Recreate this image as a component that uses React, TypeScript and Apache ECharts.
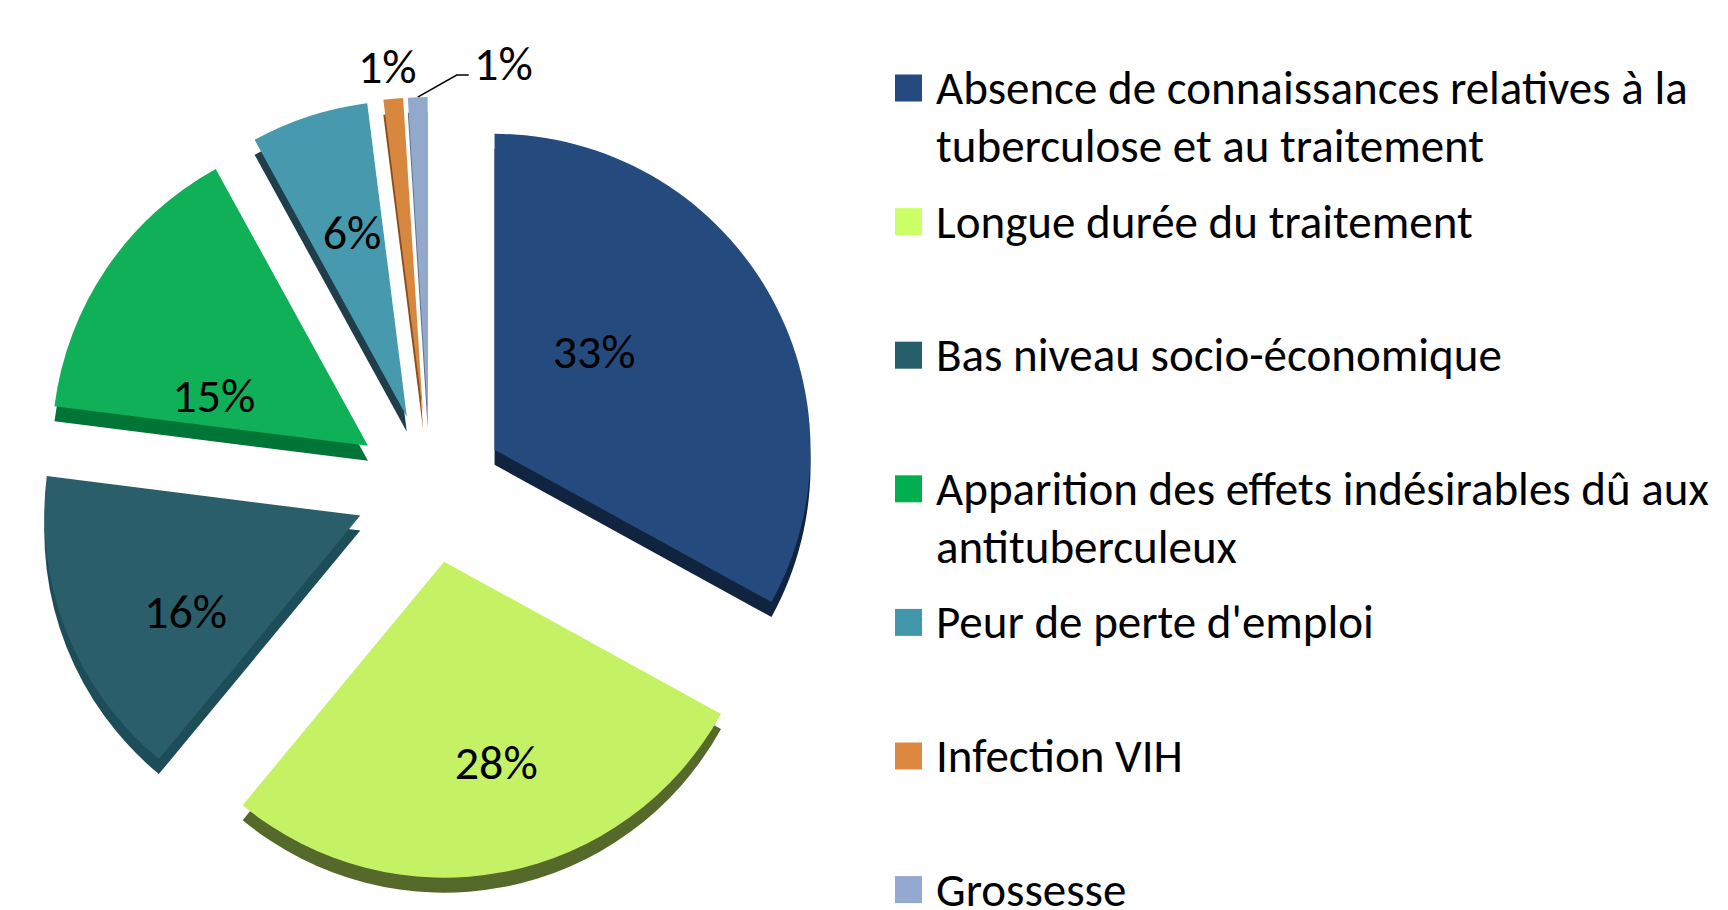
import React, { useEffect, useRef } from 'react';
import * as echarts from 'echarts';

const categories = [
  'Absence de connaissances relatives à la tuberculose et au traitement',
  'Longue durée du traitement',
  'Bas niveau socio-économique',
  'Apparition des effets indésirables dû aux antituberculeux',
  "Peur de perte d'emploi",
  'Infection VIH',
  'Grossesse',
];
const values = [33, 28, 16, 15, 6, 1, 1];
const legendLabels = [
  'Absence de connaissances relatives à la\ntuberculose et au traitement',
  'Longue durée du traitement',
  'Bas niveau socio-économique',
  'Apparition des effets indésirables dû aux\nantituberculeux',
  "Peur de perte d'emploi",
  'Infection VIH',
  'Grossesse',
];

const topColors = ['#254a7d', '#c4f264', '#2a5e6b', '#0fb058', '#4799ae', '#d8873f', '#93a9cc'];
const sideColors = ['#10233f', '#55692b', '#1c4d59', '#007536', '#1f3e49', '#8a4e1e', '#5d6f8f'];
const legendColors = ['#254a7f', '#ccff66', '#265e6a', '#00b050', '#4397ad', '#dd8840', '#94a9cf'];

const FONT = 'Carlito, Lato, "Open Sans", sans-serif';
const FS = 47;
const LH = 58;
const labelNudge = [[-39, -16], [22, 43], [-25, 37], [-21, 40], [-5, -31], [21, -12], [82, -14]];

export default function App() {
  const ref = useRef<HTMLDivElement>(null);
  useEffect(() => {
    document.body.style.margin = '0';
    const chart = echarts.init(ref.current!, null, { renderer: 'svg' });
    const center = [430, 488];
    const radius = 316;
    const offset = 75;
    const depth = 15;

    const legends = categories.map((name, i) => {
      const lines = legendLabels[i].split('\n').length;
      const cy = 88 + 133.6 * i;
      const text = lines === 2 ? '\u00a0\n' + legendLabels[i] : legendLabels[i];
      const boxH = lines === 2 ? 3 * LH : LH;
      return {
        show: true,
        data: [{ name, itemStyle: { color: legendColors[i] } }],
        orient: 'vertical',
        left: 895,
        top: cy - boxH / 2,
        padding: 0,
        itemWidth: 27,
        itemHeight: 27,
        icon: 'rect',
        selectedMode: false,
        formatter: () => text,
        textStyle: {
          fontSize: FS,
          fontFamily: FONT,
          color: '#000',
          lineHeight: LH,
          padding: [0, 0, 0, 9],
        },
      };
    });

    const option: any = {
      animation: false,
      backgroundColor: '#fff',
      legend: legends,
      series: [
        {
          type: 'pie',
          name: 'top',
          z: 3,
          silent: true,
          center,
          radius,
          startAngle: 90,
          clockwise: true,
          selectedMode: 'multiple',
          selectedOffset: offset,
          avoidLabelOverlap: false,
          emphasis: { disabled: true },
          data: categories.map((name, i) => ({
            name,
            value: values[i],
            selected: true,
            itemStyle: { color: topColors[i] },
            label: { position: i >= 5 ? 'outside' : 'inside' },
            labelLine: { show: i === 6 },
          })),
          label: { show: true, formatter: '{c}%', fontSize: 48, fontFamily: FONT, color: '#000' },
          labelLine: { length: 20, length2: 20, lineStyle: { color: '#000', width: 1.5 } },
          labelLayout: (p: any) => {
            const i = p.dataIndex;
            if (i === 5) {
              return { dx: labelNudge[i][0], dy: labelNudge[i][1], align: 'center' };
            }
            if (i === 6) {
              const sx = p.rect.x + p.rect.width / 2;
              const sy = p.rect.y;
              return {
                dx: labelNudge[i][0],
                dy: labelNudge[i][1],
                align: 'left',
                labelLinePoints: [[sx, sy], [sx + 39, sy - 22], [sx + 51, sy - 22]],
              };
            }
            return { dx: labelNudge[i][0], dy: labelNudge[i][1] };
          },
        },
        {
          type: 'pie',
          name: 'depth',
          z: 2,
          silent: true,
          center: [center[0], center[1] + depth],
          radius,
          startAngle: 90,
          clockwise: true,
          selectedMode: 'multiple',
          selectedOffset: offset,
          emphasis: { disabled: true },
          label: { show: false },
          labelLine: { show: false },
          data: categories.map((name, i) => ({
            name,
            value: values[i],
            selected: true,
            itemStyle: { color: sideColors[i] },
          })),
        },
      ],
    };
    chart.setOption(option);
    return () => chart.dispose();
  }, []);
  return <div ref={ref} style={{ position: 'fixed', left: 0, top: 0, width: 1728, height: 910 }} />;
}
